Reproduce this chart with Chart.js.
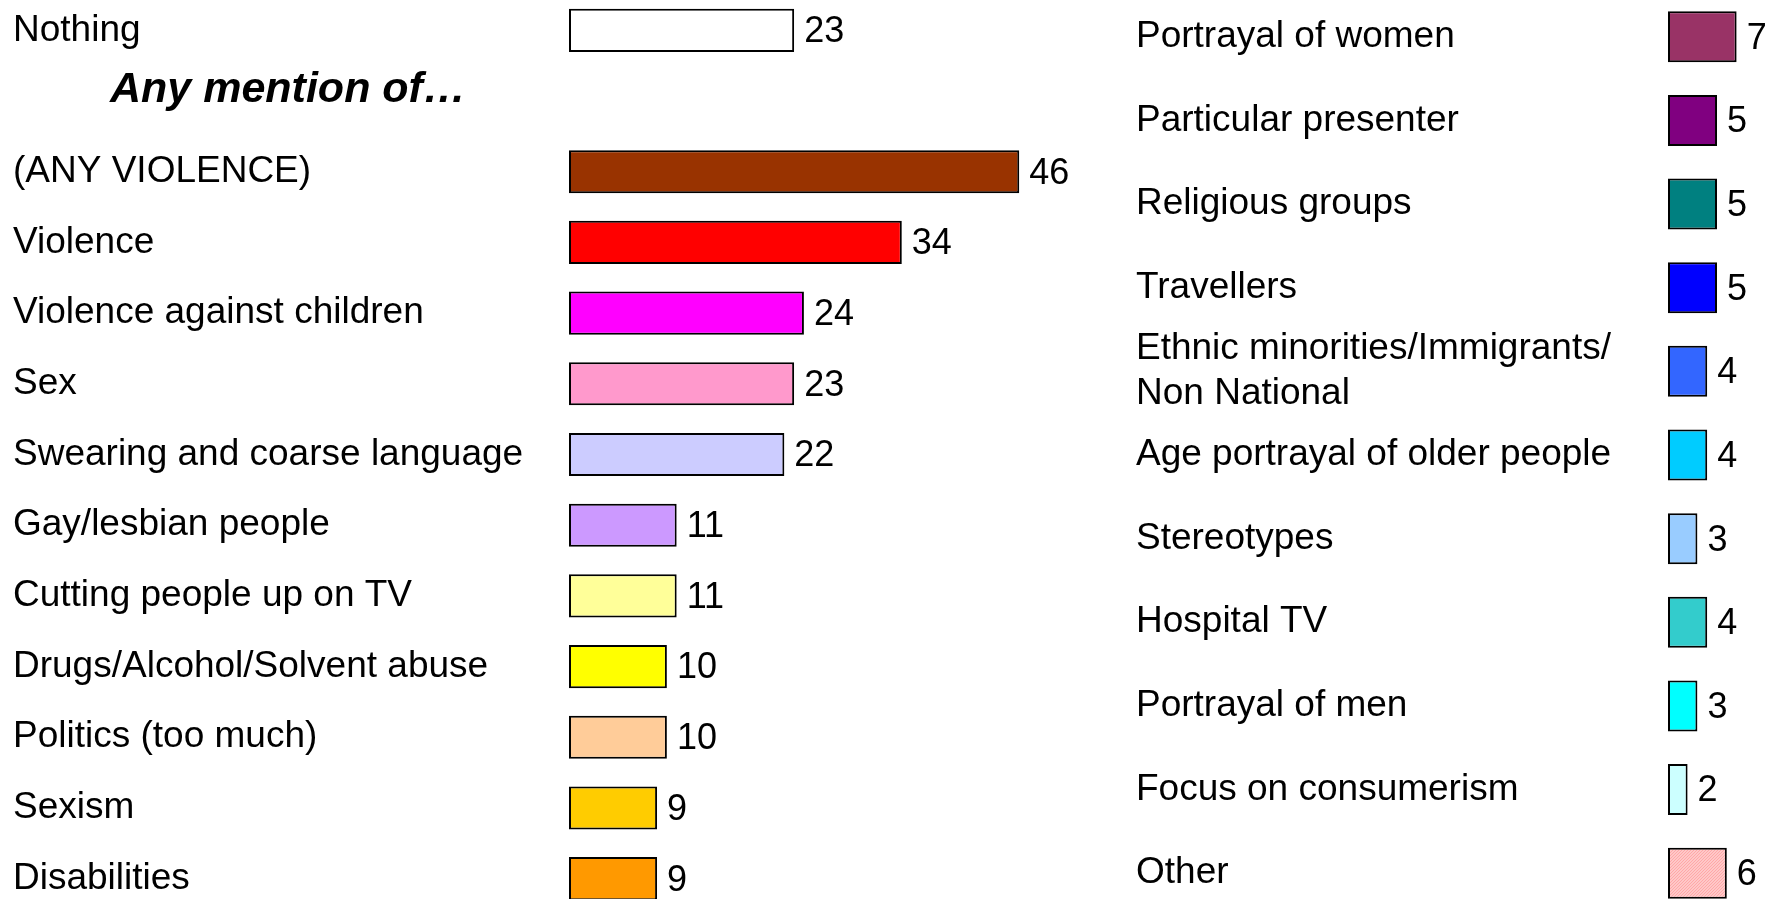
<html>

<head>
    <meta charset="utf-8">
    <title>Any mention of</title>
    <script src="https://cdn.jsdelivr.net/npm/chart.js@4.4.1/dist/chart.umd.min.js"></script>
    <style>
        body {
            margin: 0;
            overflow: hidden;
            background-color: #fff;
            width: 1768px;
            height: 899px;
        }

        #g0 {
            position: absolute;
            left: 0px;
            top: -5px;
        }

        #g1 {
            position: absolute;
            left: 1100px;
            top: -5px;
        }
    </style>
</head>

<body>
    <div id="g0">
        <canvas id="myChart0" width="1078" height="919"></canvas>
    </div>
    <div id="g1">
        <canvas id="myChart1" width="668" height="920"></canvas>
    </div>

    <script>
        // left block: second slot is left empty for the heading
        const leftLabels = ['Nothing', '', '(ANY VIOLENCE)', 'Violence', 'Violence against children', 'Sex',
            'Swearing and coarse language', 'Gay/lesbian people', 'Cutting people up on TV',
            'Drugs/Alcohol/Solvent abuse', 'Politics (too much)', 'Sexism', 'Disabilities'];
        const leftValues = [23, null, 46, 34, 24, 23, 22, 11, 11, 10, 10, 9, 9];
        const leftColors = ['#FFFFFF', '#FFFFFF', '#993300', '#FF0000', '#FF00FF', '#FF99CC', '#CCCCFF',
            '#CC99FF', '#FFFF99', '#FFFF00', '#FFCC99', '#FFCC00', '#FF9900'];
        const headingText = 'Any mention of…';

        const rightLabels = ['Portrayal of women', 'Particular presenter', 'Religious groups', 'Travellers',
            ['Ethnic minorities/Immigrants/', 'Non National'], 'Age portrayal of older people', 'Stereotypes',
            'Hospital TV', 'Portrayal of men', 'Focus on consumerism', 'Other'];
        const rightValues = [7, 5, 5, 5, 4, 4, 3, 4, 3, 2, 6];
        const rightColors = ['#993366', '#800080', '#008080', '#0000FF', '#3366FF', '#00CCFF', '#99CCFF',
            '#33CCCC', '#00FFFF', '#CCFFFF', 'hatch'];

        const FONT = '"Liberation Sans", Arial, sans-serif';

        // pink hatch used by "Other"
        function makeHatch() {
            let c = document.createElement('canvas');
            c.width = 3;
            c.height = 3;
            let x = c.getContext('2d');
            x.fillStyle = '#FFC8C8';
            x.fillRect(0, 0, 3, 3);
            x.fillStyle = '#FFA8A8';
            x.fillRect(0, 2, 1, 1);
            x.fillRect(1, 1, 1, 1);
            x.fillRect(2, 0, 1, 1);
            return x.createPattern(c, 'repeat');
        }

        const valueLabels = {
            id: 'valueLabels',
            afterDatasetsDraw(chart) {
                let ctx = chart.ctx;
                let meta = chart.getDatasetMeta(0);
                let values = chart.data.datasets[0].data;
                ctx.save();
                ctx.font = '36px ' + FONT;
                ctx.fillStyle = '#000';
                ctx.textAlign = 'left';
                ctx.textBaseline = 'middle';
                meta.data.forEach((bar, i) => {
                    if (values[i] == null) return;
                    ctx.fillText(String(values[i]), bar.x + 10, bar.y + 2);
                });
                ctx.restore();
            }
        };

        const heading = {
            id: 'heading',
            afterDraw(chart) {
                let ctx = chart.ctx;
                let y = chart.scales.y.getPixelForValue(1);
                ctx.save();
                ctx.font = 'italic bold 43px ' + FONT;
                ctx.fillStyle = '#000';
                ctx.textAlign = 'left';
                ctx.textBaseline = 'alphabetic';
                ctx.fillText(headingText, 110, y + 1);
                ctx.restore();
            }
        };

        function makeChart(no, labels, values, colors, max, padLeft, axisWidth, plugins) {
            let ctx = document.getElementById('myChart' + no);
            let config = {
                type: 'bar',
                data: {
                    labels: labels,
                    datasets: [{
                        data: values,
                        backgroundColor: colors,
                        borderColor: '#000',
                        borderWidth: 2,
                        borderSkipped: false,
                        barPercentage: 0.61,
                        categoryPercentage: 1
                    }]
                },
                options: {
                    indexAxis: 'y',
                    responsive: false,
                    maintainAspectRatio: false,
                    animation: false,
                    layout: { padding: { left: padLeft, right: 0, top: 0, bottom: 0 } },
                    plugins: {
                        legend: { display: false },
                        tooltip: { enabled: false }
                    },
                    scales: {
                        x: { display: false, min: 0, max: max },
                        y: {
                            grid: { display: false },
                            border: { display: false },
                            ticks: {
                                autoSkip: false,
                                crossAlign: 'far',
                                color: '#000',
                                font: { family: FONT, size: 37, lineHeight: 1.2 }
                            },
                            afterFit: function (scale) {
                                scale.width = axisWidth;
                                // labels sit inside their slots, no extra room needed
                                scale.paddingTop = 0;
                                scale.paddingBottom = 0;
                            }
                        }
                    }
                },
                plugins: plugins
            };
            return new Chart(ctx, config);
        }

        let hatch = makeHatch();
        let rightFills = rightColors.map(c => c === 'hatch' ? hatch : c);

        makeChart(0, leftLabels, leftValues, leftColors, 52, 13, 556, [valueLabels, heading]);
        makeChart(1, rightLabels, rightValues, rightFills, 10.2, 36, 532, [valueLabels]);
    </script>
</body>

</html>
